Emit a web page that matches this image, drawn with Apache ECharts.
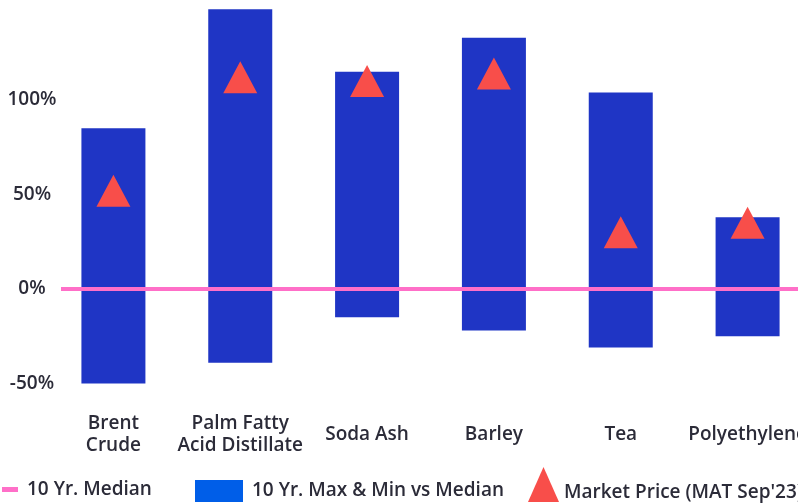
<!DOCTYPE html>
<html>
<head>
<meta charset="utf-8">
<script src="https://cdn.jsdelivr.net/npm/echarts@6/dist/echarts.min.js"></script>
<style>
  html, body { margin: 0; padding: 0; background: #ffffff; }
  #chart { width: 798px; height: 504px; }
</style>
</head>
<body>
<div id="chart"></div>
<script>
// Commodity price ranges relative to the 10-year median (%)
const categories = ['Brent\nCrude', 'Palm Fatty\nAcid Distillate', 'Soda Ash', 'Barley', 'Tea', 'Polyethylene'];
const maxVsMedian = [85, 148, 115, 133, 104, 38];
const minVsMedian = [-50, -39, -15, -22, -31, -25];
const marketPrice = [52, 112, 110, 114, 30, 35];
const medianLine = [0, 0, 0, 0, 0, 0];
const yTicks = [-50, 0, 50, 100];

const NAME_MEDIAN = '10 Yr. Median';
const NAME_RANGE = '10 Yr. Max & Min vs Median';
const NAME_PRICE = "Market Price (MAT Sep'23)";

const FONT = 'Open Sans';
const FSIZE = 19;
const FWEIGHT = 600;
const TEXT = '#2b2b38';
const BLUE = '#1f35c5';
const PINK = '#ff6fc8';
const RED = '#f84e4a';

const Y_MIN = -50, Y_MAX = 150;
const gridTop = 5.5, gridBottom = 120.5;

const chart = echarts.init(document.getElementById('chart'), null, { renderer: 'canvas' });

const baseText = { fontFamily: FONT, fontSize: FSIZE, fontWeight: FWEIGHT, color: TEXT };

chart.setOption({
  animation: false,
  backgroundColor: '#ffffff',
  textStyle: { fontFamily: FONT, color: TEXT },
  legend: [
    {
      data: [{ name: NAME_MEDIAN, icon: 'rect', itemStyle: { color: PINK } }],
      left: 2, top: 480, padding: 0,
      itemWidth: 16, itemHeight: 5,
      textStyle: Object.assign({ padding: [2, 0, 0, 4] }, baseText),
      selectedMode: false
    },
    {
      data: [{ name: NAME_RANGE, icon: 'rect', itemStyle: { color: '#005ee8' } }],
      left: 195, top: 480, padding: 0,
      itemWidth: 48, itemHeight: 22,
      textStyle: Object.assign({ padding: [0, 0, 0, 4] }, baseText),
      selectedMode: false
    },
    {
      data: [{ name: NAME_PRICE, icon: 'triangle', itemStyle: { color: RED } }],
      left: 528, top: 467, padding: 0,
      itemWidth: 31, itemHeight: 35,
      formatter: name => '{t|' + name + '}',
      textStyle: Object.assign({
        rich: { t: Object.assign({ padding: [16, 0, 0, 0] }, baseText) }
      }, baseText),
      selectedMode: false
    }
  ],
  grid: [
    { left: 50, width: 761, top: gridTop, bottom: gridBottom, outerBoundsMode: 'none', containLabel: false },
    { left: 61, width: 750, top: gridTop, bottom: gridBottom, outerBoundsMode: 'none', containLabel: false }
  ],
  xAxis: [
    {
      type: 'category',
      gridIndex: 0,
      data: categories,
      axisLine: { show: false },
      axisTick: { show: false },
      axisLabel: Object.assign({
        interval: 0,
        lineHeight: 22,
        verticalAlign: 'middle',
        margin: 51
      }, baseText)
    },
    {
      type: 'category',
      gridIndex: 1,
      data: categories,
      boundaryGap: false,
      show: false
    }
  ],
  yAxis: [
    {
      type: 'value',
      gridIndex: 0,
      min: Y_MIN, max: Y_MAX, interval: 50,
      splitLine: { show: false },
      axisLine: { show: false },
      axisTick: { show: false },
      axisLabel: Object.assign({
        showMaxLabel: false,
        align: 'center',
        margin: 18,
        formatter: v => (yTicks.includes(v) ? v + '%' : '')
      }, baseText)
    },
    {
      type: 'value',
      gridIndex: 1,
      min: Y_MIN, max: Y_MAX, interval: 50,
      show: false
    }
  ],
  series: [
    {
      name: NAME_RANGE,
      type: 'bar',
      stack: 'range',
      xAxisIndex: 0, yAxisIndex: 0,
      data: maxVsMedian,
      barWidth: 64,
      itemStyle: { color: BLUE },
      z: 2
    },
    {
      name: NAME_RANGE,
      type: 'bar',
      stack: 'range',
      xAxisIndex: 0, yAxisIndex: 0,
      data: minVsMedian,
      barWidth: 64,
      itemStyle: { color: BLUE },
      z: 2
    },
    {
      name: NAME_MEDIAN,
      type: 'line',
      xAxisIndex: 1, yAxisIndex: 1,
      data: medianLine,
      symbol: 'none',
      lineStyle: { color: PINK, width: 4 },
      itemStyle: { color: PINK },
      z: 4
    },
    {
      name: NAME_PRICE,
      type: 'scatter',
      xAxisIndex: 0, yAxisIndex: 0,
      data: marketPrice,
      symbol: 'triangle',
      symbolSize: [34, 32],
      itemStyle: { color: RED, opacity: 1 },
      z: 5
    }
  ]
});
</script>
</body>
</html>
